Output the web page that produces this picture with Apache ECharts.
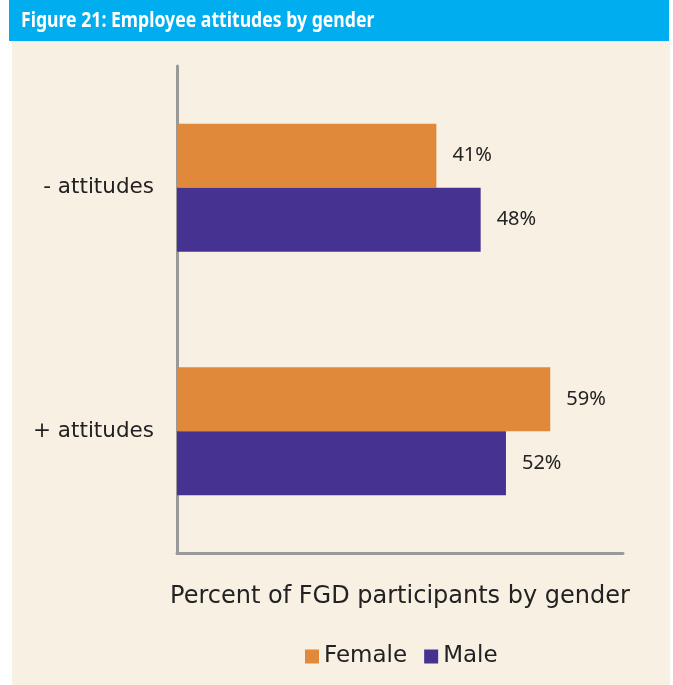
<!DOCTYPE html>
<html>
<head>
<meta charset="utf-8">
<script src="https://cdn.jsdelivr.net/npm/echarts@6/dist/echarts.min.js"></script>
<style>
html,body{margin:0;padding:0;background:#ffffff;}
#chart{width:673px;height:685px;}
</style>
</head>
<body>
<div id="chart"></div>
<script>
var categories = ['- attitudes', '+ attitudes'];
var femaleValues = [41, 59];
var maleValues = [48, 52];
var seriesNames = ['Female', 'Male'];
var titleText = 'Figure 21: Employee attitudes by gender';

var chart = echarts.init(document.getElementById('chart'));
var font = 'DejaVu Sans';
var labelFont = 'Noto Sans';
chart.setOption({
  backgroundColor: '#ffffff',
  animation: false,
  graphic: [
    {type: 'rect', z: -10, shape: {x: 12, y: 41, width: 658, height: 644}, style: {fill: '#F8F1E3'}},
    {type: 'rect', z: -10, shape: {x: 9, y: 0, width: 660, height: 41}, style: {fill: '#00AEEF'}},
    {type: 'text', x: 21, y: 21, scaleX: 0.84, z: 10,
     style: {text: titleText, fill: '#ffffff', font: 'bold 21px "Noto Sans"', textVerticalAlign: 'middle', verticalAlign: 'middle'}}
  ],
  legend: {
    data: seriesNames,
    top: 640,
    left: 300,
    itemWidth: 14, itemHeight: 14, itemGap: 17,
    icon: 'rect',
    textStyle: {fontFamily: font, fontSize: 23, color: '#222222'}
  },
  grid: {left: 177, right: 50, top: 66, bottom: 132, containLabel: false},
  xAxis: {
    type: 'value', min: 0, max: 70.5,
    name: 'Percent of FGD participants by gender',
    nameLocation: 'middle', nameGap: 32,
    nameTextStyle: {fontFamily: font, fontSize: 24, color: '#222222'},
    axisLine: {show: true, lineStyle: {color: '#9a9a9a', width: 3}},
    axisTick: {show: false}, axisLabel: {show: false}, splitLine: {show: false}
  },
  yAxis: {
    type: 'category', data: categories, inverse: true,
    axisLine: {show: true, lineStyle: {color: '#9a9a9a', width: 3}},
    axisTick: {show: false},
    axisLabel: {fontFamily: font, fontSize: 21.5, color: '#222222', margin: 23}
  },
  series: [
    {name: seriesNames[0], type: 'bar', data: femaleValues, barWidth: 64, barGap: '0%',
     itemStyle: {color: '#E0893A'},
     label: {show: true, position: 'right', distance: 16, formatter: '{c}%', fontFamily: labelFont, fontSize: 20, color: '#222222'}},
    {name: seriesNames[1], type: 'bar', data: maleValues, barWidth: 64, barGap: '0%',
     itemStyle: {color: '#463291'},
     label: {show: true, position: 'right', distance: 16, formatter: '{c}%', fontFamily: labelFont, fontSize: 20, color: '#222222'}}
  ]
});
</script>
</body>
</html>
